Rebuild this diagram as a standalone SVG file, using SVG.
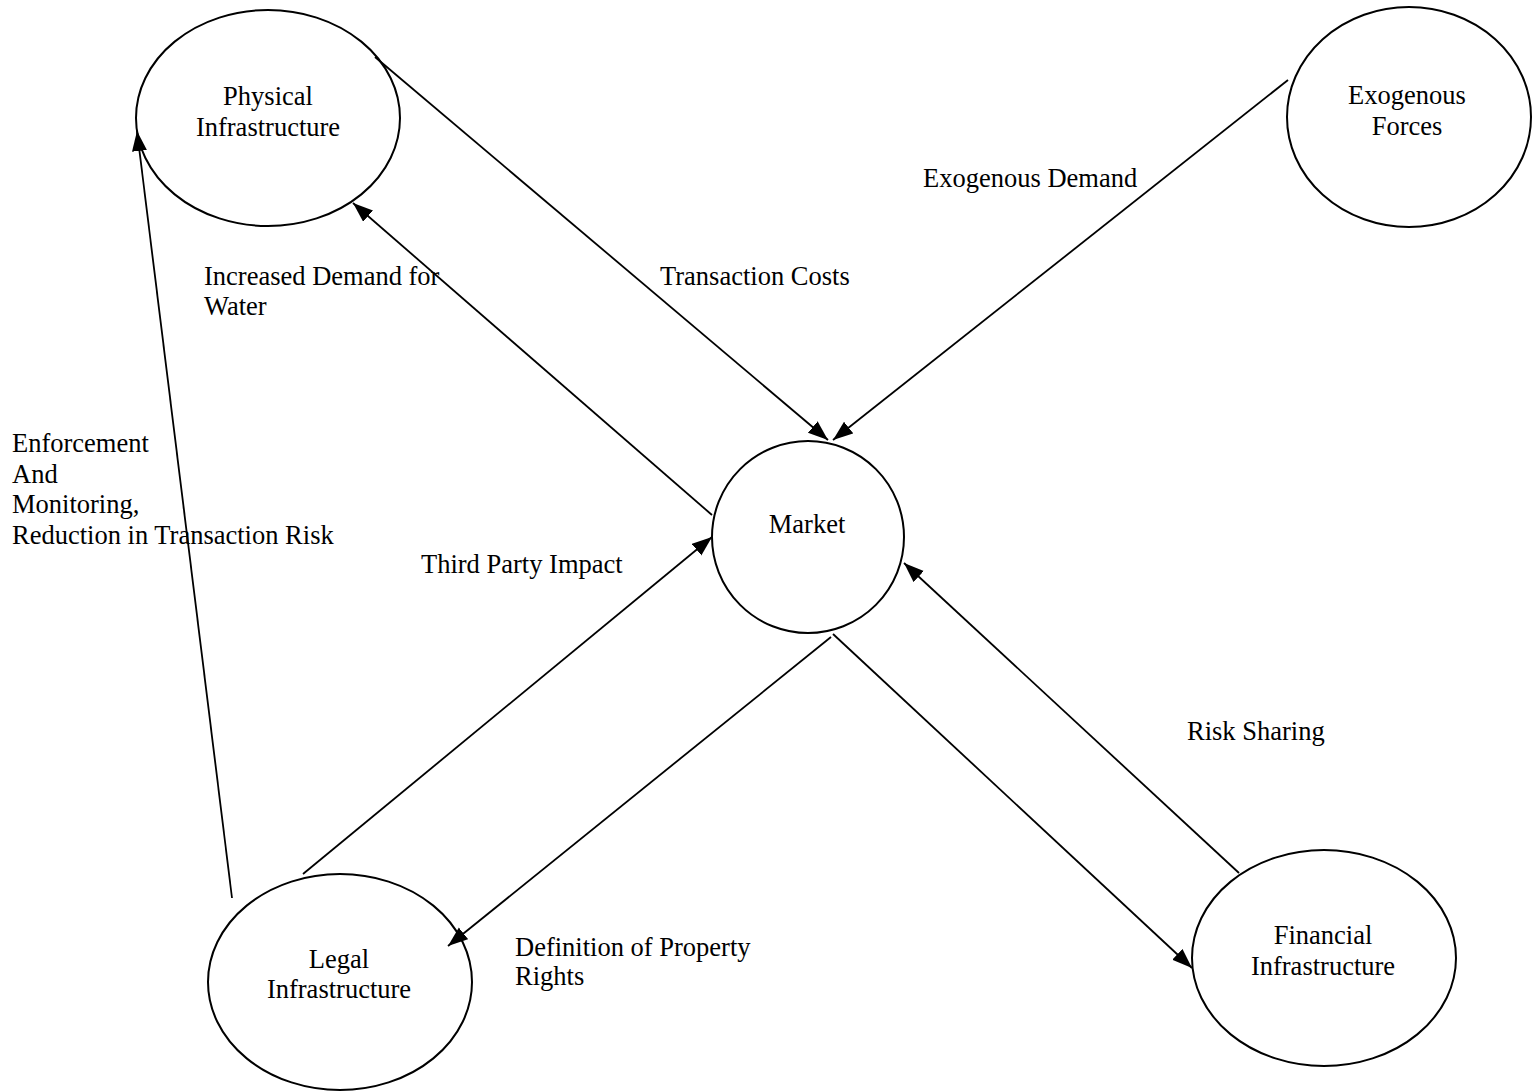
<svg xmlns="http://www.w3.org/2000/svg" width="1539" height="1092" viewBox="0 0 1539 1092">
<defs>
<marker id="arr" markerUnits="userSpaceOnUse" markerWidth="22" markerHeight="16" refX="20" refY="7.5" orient="auto">
<path d="M0,0 L20,7.5 L0,15 z" fill="#000"/>
</marker>
<style>
.node ellipse{fill:#fff;stroke:#000;stroke-width:2}
text{font-family:"Liberation Serif","Times New Roman",serif;font-size:26.5px;fill:#000}
.c text{text-anchor:middle}
.conn line{stroke:#000;stroke-width:1.8;fill:none}
</style>
</defs>
<rect width="1539" height="1092" fill="#fff"/>
<g id="node-physical" class="node c">
<ellipse cx="268" cy="118" rx="132" ry="108"/>
<text x="268" y="105">Physical</text>
<text x="268" y="136">Infrastructure</text>
</g>
<g id="node-exogenous" class="node c">
<ellipse cx="1409" cy="117" rx="122" ry="110"/>
<text x="1407" y="104">Exogenous</text>
<text x="1407" y="135">Forces</text>
</g>
<g id="node-market" class="node c">
<ellipse cx="808" cy="537" rx="96" ry="96"/>
<text x="807" y="533">Market</text>
</g>
<g id="node-legal" class="node c">
<ellipse cx="340" cy="982" rx="132" ry="108"/>
<text x="339" y="968">Legal</text>
<text x="339" y="998">Infrastructure</text>
</g>
<g id="node-financial" class="node c">
<ellipse cx="1324" cy="958" rx="132" ry="108"/>
<text x="1323" y="944">Financial</text>
<text x="1323" y="975">Infrastructure</text>
</g>
<g id="connectors" class="conn">
<line x1="375" y1="57" x2="828" y2="440" marker-end="url(#arr)"/>
<line x1="1288" y1="80" x2="833" y2="440" marker-end="url(#arr)"/>
<line x1="712" y1="515" x2="353" y2="203" marker-end="url(#arr)"/>
<line x1="303" y1="874" x2="712" y2="537" marker-end="url(#arr)"/>
<line x1="831" y1="637" x2="448" y2="946" marker-end="url(#arr)"/>
<line x1="833" y1="634" x2="1192" y2="968" marker-end="url(#arr)"/>
<line x1="1239" y1="873" x2="904" y2="563" marker-end="url(#arr)"/>
<line x1="232" y1="898" x2="137" y2="131" marker-end="url(#arr)"/>
</g>
<g id="labels">
<text x="204" y="285">Increased Demand for</text>
<text x="204" y="315">Water</text>
<text x="660" y="285">Transaction Costs</text>
<text x="923" y="187">Exogenous Demand</text>
<text x="421" y="573">Third Party Impact</text>
<text x="1187" y="740">Risk Sharing</text>
<text x="515" y="956">Definition of Property</text>
<text x="515" y="985">Rights</text>
<text x="12" y="452">Enforcement</text>
<text x="12" y="483">And</text>
<text x="12" y="513">Monitoring,</text>
<text x="12" y="544">Reduction in Transaction Risk</text>
</g>
</svg>
